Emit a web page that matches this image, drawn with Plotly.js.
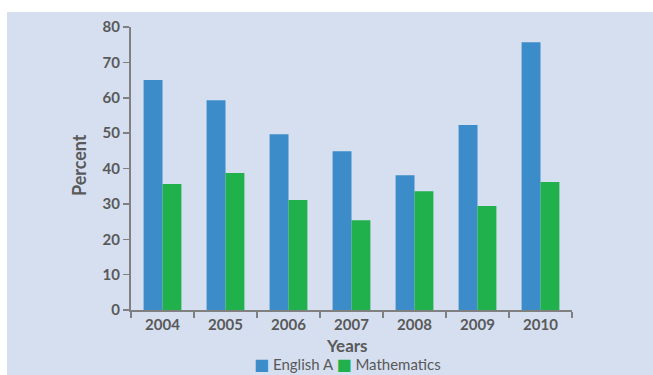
<!DOCTYPE html>
<html>
<head>
<meta charset="utf-8">
<script src="https://cdn.plot.ly/plotly-3.0.1.min.js"></script>
<style>
  html, body { margin: 0; padding: 0; background: #ffffff; width: 653px; height: 375px; overflow: hidden; }
  #chart { position: absolute; left: 7px; top: 12px; width: 646px; height: 363px; }
</style>
</head>
<body>
<div id="chart"></div>
<script>
const years = ['2004', '2005', '2006', '2007', '2008', '2009', '2010'];
const englishA = [65, 59.3, 49.7, 44.9, 38.1, 52.3, 75.7];
const mathematics = [35.6, 38.7, 31.1, 25.4, 33.6, 29.4, 36.2];
const yTicks = [0, 10, 20, 30, 40, 50, 60, 70, 80];
const seriesNames = ['English A', 'Mathematics'];
const seriesColors = ['#3b8cc9', '#21b14c'];

const textColor = '#595959';
const axisColor = '#808080';
const fontFamily = 'Lato, "Open Sans", sans-serif';

const data = [
  { type: 'bar', name: seriesNames[0], x: years, y: englishA, marker: { color: seriesColors[0] } },
  { type: 'bar', name: seriesNames[1], x: years, y: mathematics, marker: { color: seriesColors[1] } }
];

const legendText = seriesNames.map((n, i) =>
  '<span style="fill:' + seriesColors[i] + ';font-size:16px;font-family:DejaVu Sans">■</span> ' + n).join(' ');

const layout = {
  width: 646, height: 363,
  margin: { l: 124, r: 81, t: 15, b: 65 },
  paper_bgcolor: '#d5dff0',
  plot_bgcolor: '#d5dff0',
  barmode: 'group',
  bargap: 0.4,
  bargroupgap: 0,
  showlegend: false,
  font: { family: fontFamily, color: textColor },
  xaxis: {
    type: 'category',
    showgrid: false,
    showline: true, linecolor: axisColor, linewidth: 1.5,
    ticks: 'outside', tickson: 'boundaries', ticklen: 6, tickcolor: axisColor, tickwidth: 1.5,
    tickfont: { family: fontFamily, size: 15, color: textColor, weight: 'bold' }
  },
  yaxis: {
    range: [0, 80],
    tickvals: yTicks,
    showgrid: false, zeroline: false,
    showline: true, linecolor: axisColor, linewidth: 2,
    ticks: 'outside', ticklen: 6, tickcolor: axisColor, tickwidth: 1.5,
    tickfont: { family: fontFamily, size: 15, color: textColor, weight: 'bold' }
  },
  annotations: [
    { text: 'Years', xref: 'paper', yref: 'paper', x: 0.49, y: -0.124, xanchor: 'center', yanchor: 'middle',
      showarrow: false, font: { family: fontFamily, size: 17, color: textColor, weight: 'bold' } },
    { text: 'Percent', xref: 'paper', yref: 'paper', x: -0.118, y: 0.512, xanchor: 'center', yanchor: 'middle',
      textangle: -90, showarrow: false, font: { family: fontFamily, size: 18, color: textColor, weight: 'bold' } },
    { text: legendText, xref: 'paper', yref: 'paper', x: 0.49, y: -0.194, xanchor: 'center', yanchor: 'middle',
      showarrow: false, font: { family: fontFamily, size: 15, color: textColor } }
  ]
};

Plotly.newPlot('chart', data, layout, { displayModeBar: false, staticPlot: true });
</script>
</body>
</html>
